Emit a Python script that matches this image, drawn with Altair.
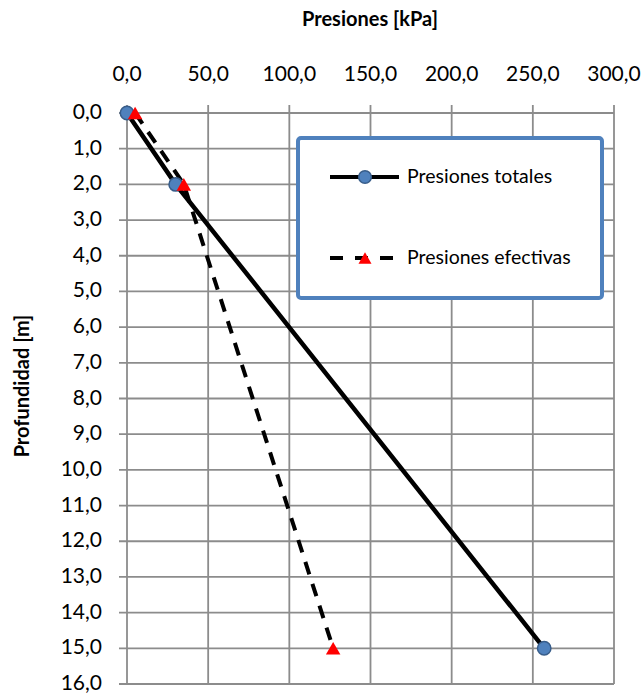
import altair as alt
import pandas as pd

# Data
depth = [0.0, 2.0, 15.0]
total_pressure = [0.0, 30.0, 257.0]
effective_pressure = [5.0, 35.0, 127.0]
series_names = ["Presiones totales", "Presiones efectivas"]
x_ticks = [0, 50, 100, 150, 200, 250, 300]
y_ticks = list(range(0, 17))
x_title = "Presiones [kPa]"
y_title = "Profundidad [m]"

df_total = pd.DataFrame({"p": total_pressure, "z": depth, "serie": series_names[0]})
df_eff = pd.DataFrame({"p": effective_pressure, "z": depth, "serie": series_names[1]})
df_xt = pd.DataFrame({"v": x_ticks})
df_yt = pd.DataFrame({"v": y_ticks})

FONT = "Lato"
GRID = "#8C8C8C"
W, H = 487, 571
LABEL_EXPR = "replace(format(datum.v, '.1f'), '.', ',')"

xs = alt.Scale(domain=[0, 300], nice=False)
ys = alt.Scale(domain=[0, 16], nice=False, reverse=True)

# Grid lines (with outward tick stubs) and tick labels
x_grid = alt.Chart(df_xt).mark_rule(color=GRID, strokeWidth=1.8).encode(
    x=alt.X("v:Q", scale=xs, axis=None), y=alt.value(-8), y2=alt.value(H))
y_grid = alt.Chart(df_yt).mark_rule(color=GRID, strokeWidth=1.8).encode(
    y=alt.Y("v:Q", scale=ys, axis=None), x=alt.value(-8), x2=alt.value(W))
x_lab = alt.Chart(df_xt).transform_calculate(lab=LABEL_EXPR).mark_text(
    font=FONT, fontSize=21, color="black", align="center", baseline="middle").encode(
    x=alt.X("v:Q", scale=xs, axis=None), y=alt.value(-38), text="lab:N")
y_lab = alt.Chart(df_yt).transform_calculate(lab=LABEL_EXPR).mark_text(
    font=FONT, fontSize=21, color="black", align="right", baseline="middle").encode(
    y=alt.Y("v:Q", scale=ys, axis=None), x=alt.value(-25), text="lab:N")

title_df = pd.DataFrame({"t": [x_title, y_title]})
x_tit = alt.Chart(title_df.iloc[[0]]).mark_text(
    font=FONT, fontSize=20, fontWeight="bold", color="black", align="center", baseline="middle").encode(
    x=alt.value(243), y=alt.value(-93), text="t:N")
y_tit = alt.Chart(title_df.iloc[[1]]).mark_text(
    font=FONT, fontSize=20, fontWeight="bold", color="black", align="center", baseline="middle",
    angle=270).encode(x=alt.value(-104), y=alt.value(273), text="t:N")

x_enc = alt.X("p:Q", scale=xs, axis=None)
y_enc = alt.Y("z:Q", scale=ys, axis=None)

line_total = alt.Chart(df_total).mark_line(color="black", strokeWidth=4.5).encode(
    x=x_enc, y=y_enc, order="z:Q")
line_eff = alt.Chart(df_eff).mark_line(color="black", strokeWidth=4, strokeDash=[13, 10]).encode(
    x=x_enc, y=y_enc, order="z:Q")
pts_total = alt.Chart(df_total).mark_point(
    shape="circle", filled=True, size=180, fill="#4F81BD", stroke="#385D8A", strokeWidth=1.5, opacity=1
).encode(x=x_enc, y=y_enc)
pts_eff = alt.Chart(df_eff).mark_point(
    shape="triangle-up", filled=True, size=210, fill="#FF0000", opacity=1, strokeWidth=0
).encode(x=x_enc, y=y_enc)

# Legend (drawn as a box inside the plot area)
box_df = pd.DataFrame({"k": [0]})
legend_box = alt.Chart(box_df).mark_rect(
    fill="white", stroke="#4F81BD", strokeWidth=4, cornerRadius=3
).encode(x=alt.value(171), x2=alt.value(475), y=alt.value(25), y2=alt.value(185))

leg_df = pd.DataFrame({"serie": series_names})
leg1 = leg_df.iloc[[0]]
leg2 = leg_df.iloc[[1]]
leg_line1 = alt.Chart(leg1).mark_rule(color="black", strokeWidth=4).encode(
    x=alt.value(203), x2=alt.value(272), y=alt.value(64))
leg_line2 = alt.Chart(leg2).mark_rule(color="black", strokeWidth=4, strokeDash=[13, 12]).encode(
    x=alt.value(203), x2=alt.value(272), y=alt.value(145))
leg_pt1 = alt.Chart(leg1).mark_point(
    shape="circle", filled=True, size=160, fill="#4F81BD", stroke="#385D8A", strokeWidth=1.5, opacity=1
).encode(x=alt.value(238), y=alt.value(64))
leg_pt2 = alt.Chart(leg2).mark_point(
    shape="triangle-up", filled=True, size=170, fill="#FF0000", opacity=1, strokeWidth=0
).encode(x=alt.value(238), y=alt.value(145))
leg_txt1 = alt.Chart(leg1).mark_text(align="left", baseline="middle", fontSize=19.5, font=FONT, color="black").encode(
    x=alt.value(280), y=alt.value(64), text="serie:N")
leg_txt2 = alt.Chart(leg2).mark_text(align="left", baseline="middle", fontSize=19.5, font=FONT, color="black").encode(
    x=alt.value(280), y=alt.value(145), text="serie:N")

chart = alt.layer(
    x_grid, y_grid, x_lab, y_lab, x_tit, y_tit,
    line_total, line_eff, pts_total, pts_eff,
    legend_box, leg_line1, leg_line2, leg_pt1, leg_pt2, leg_txt1, leg_txt2,
).properties(
    width=W, height=H,
    autosize=alt.AutoSizeParams(type="none"),
    padding={"left": 127, "top": 113, "right": 30, "bottom": 14},
    background="white",
).configure_view(stroke=None)

chart.save("out.html", embed_options={"renderer": "svg", "actions": False})
